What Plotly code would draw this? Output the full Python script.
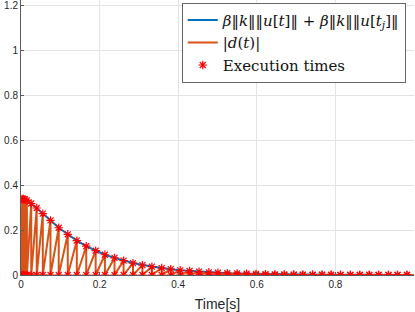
import plotly.graph_objects as go

# Execution times [s]
exec_times = [0.0, 0.003, 0.006, 0.010, 0.015, 0.026, 0.040, 0.0555, 0.075, 0.096,
              0.119, 0.142, 0.166, 0.190, 0.2135, 0.238, 0.261, 0.285, 0.309, 0.333,
              0.358, 0.381, 0.405, 0.429, 0.453, 0.478, 0.501, 0.525, 0.550, 0.574,
              0.598, 0.622, 0.646, 0.670, 0.694, 0.717, 0.742, 0.766, 0.789, 0.813,
              0.838, 0.862, 0.886, 0.910, 0.935, 0.958, 0.982]
# Threshold beta||k|| ||u[t]|| + beta||k|| ||u[t_j]|| at execution times
threshold = [0.335, 0.338, 0.338, 0.336, 0.332, 0.318, 0.298, 0.273, 0.243, 0.210,
             0.181, 0.153, 0.128, 0.108, 0.090, 0.076, 0.064, 0.053, 0.044, 0.037,
             0.031, 0.026, 0.021, 0.018, 0.015, 0.012, 0.010, 0.008, 0.007, 0.006,
             0.005, 0.004, 0.003, 0.0025, 0.002, 0.0017, 0.0014, 0.0012, 0.001, 0.0008,
             0.0007, 0.0006, 0.0005, 0.0004, 0.0003, 0.0003, 0.0002]
t_end = 1.0
thr_end = 0.0002
d_end = 0.0001

x_ticks = [0, 0.2, 0.4, 0.6, 0.8]
x_tick_text = ["0", "0.2", "0.4", "0.6", "0.8"]
y_ticks = [0, 0.2, 0.4, 0.6, 0.8, 1.0, 1.2]
y_tick_text = ["0", "0.2", "0.4", "0.6", "0.8", "1", "1.2"]

BLUE = "#0072BD"
ORANGE = "#D95319"
RED = "#FF0000"

# blue threshold curve
blue_x = exec_times + [t_end]
blue_y = threshold + [thr_end]

# orange sawtooth |d(t)|: resets to 0 at t_j, grows to the threshold at t_{j+1}
d_x, d_y = [], []
for j in range(len(exec_times) - 1):
    d_x += [exec_times[j], exec_times[j + 1]]
    d_y += [0.0, threshold[j + 1]]
d_x += [exec_times[-1], t_end]
d_y += [0.0, d_end]

# execution-time markers (top and bottom)
star_x = exec_times + exec_times
star_y = threshold + [0.0] * len(exec_times)

fig = go.Figure()
fig.add_trace(go.Scatter(
    x=blue_x, y=blue_y, mode="lines",
    line=dict(color=BLUE, width=2),
    name="<i>β</i>‖<i>k</i>‖‖<i>u</i>[<i>t</i>]‖ + <i>β</i>‖<i>k</i>‖‖<i>u</i>[<i>t<sub>j</sub></i>]‖",
))
fig.add_trace(go.Scatter(
    x=d_x, y=d_y, mode="lines",
    line=dict(color=ORANGE, width=2),
    name="|<i>d</i>(<i>t</i>)|",
))
fig.add_trace(go.Scatter(
    x=star_x, y=star_y, mode="markers",
    marker=dict(symbol="asterisk-open", size=7, color=RED, line=dict(color=RED, width=1.2)),
    name="Execution times",
))

axis_common = dict(
    showgrid=True, gridcolor="#E3E3E3", gridwidth=1,
    showline=True, linecolor="#5a5a5a", linewidth=1,
    ticks="inside", ticklen=3, tickcolor="#5a5a5a",
    zeroline=False, automargin=False, ticklabeloverflow="allow",
    tickfont=dict(family="Liberation Sans", size=10, color="#262626"),
)

fig.update_layout(
    width=415, height=312,
    margin=dict(l=21, r=1, t=0, b=37),
    paper_bgcolor="white", plot_bgcolor="white",
    showlegend=True,
    legend=dict(
        x=0.979, xanchor="right", y=0.99, yanchor="top",
        bgcolor="white", bordercolor="#666666", borderwidth=1,
        font=dict(family="DejaVu Serif", size=15, color="#111111"),
        itemwidth=30, tracegroupgap=0,
    ),
)
fig.update_xaxes(
    range=[0, 1], tickvals=x_ticks, ticktext=x_tick_text,
    title=dict(text="Time[s]", font=dict(family="Liberation Sans", size=14, color="#262626")),
    **axis_common,
)
fig.update_yaxes(
    range=[0, 1.2227], tickvals=y_ticks, ticktext=y_tick_text,
    **axis_common,
)

fig.write_html("out.html", config={"displayModeBar": False},
               post_script="document.body.style.margin='0';")
